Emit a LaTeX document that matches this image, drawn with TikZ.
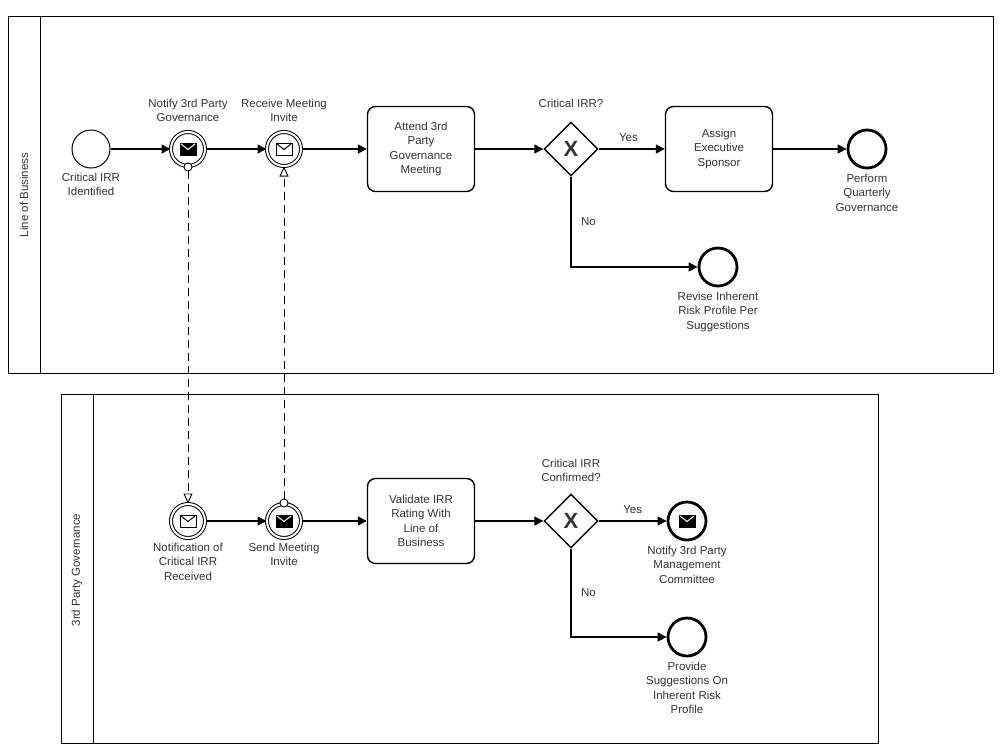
\documentclass[tikz,border=0pt]{standalone}
\usepackage{fontspec}
\setmainfont{Liberation Sans}
\usetikzlibrary{arrows.meta,shapes.geometric,calc}
\tikzset{
    task/.style={draw, line width=1.4pt, rounded corners=8pt, minimum width=107pt, minimum height=85pt, align=center},
    startev/.style={draw, circle, line width=1pt, minimum size=38pt, inner sep=0pt},
    endev/.style={draw, circle, line width=2.8pt, minimum size=38pt, inner sep=0pt},
    midev/.style={draw, circle, double, double distance=2pt, line width=1pt, minimum size=34pt, inner sep=0pt},
    gate/.style={draw, diamond, line width=1.4pt, minimum size=54pt, inner sep=0pt},
    lbl/.style={align=center},
    flow/.style={line width=1.4pt, -{Triangle[length=9pt,width=9pt]}},
    msg/.style={dashed, dash pattern=on 8pt off 5pt, line width=0.9pt}
}
\newcommand{\envelope}[3]{% center, fill, flap
    \draw[line width=1pt, fill=#2] ($#1+(-8,-6)$) rectangle ($#1+(8,6)$);
    \draw[line width=1pt, draw=#3] ($#1+(-7,-5)$) -- ($#1+(0,0.5)$) -- ($#1+(7,-5)$);
}
\begin{document}
\begin{tikzpicture}[x=1pt,y=-1pt,font=\fontsize{11.5}{14.5}\selectfont,text=black!80]
    \useasboundingbox (0,0) rectangle (1000,750);

    % pools
    \draw[line width=1pt] (8,16) rectangle (993,373);
    \draw[line width=1pt] (40,16) -- (40,373);
    \node[rotate=90, lbl] (lob) at (24,195) {Line of Business};
    \draw[line width=1pt] (61,394) rectangle (878,743);
    \draw[line width=1pt] (93,394) -- (93,743);
    \node[rotate=90, lbl] (tpg) at (77,570) {3rd Party Governance};

    % top lane
    \node[startev] (s1) at (91,149) {};
    \node[lbl, below=1pt] (s1l) at (s1.south) {Critical IRR\\Identified};
    \node[midev] (n1) at (188,149) {};
    \envelope{(188,149)}{black}{white}
    \node[lbl, above=6pt] (n1l) at (n1.north) {Notify 3rd Party\\Governance};
    \node[midev] (r1) at (284,149) {};
    \envelope{(284,149)}{white}{black}
    \node[lbl, above=6pt] (r1l) at (r1.north) {Receive Meeting\\Invite};
    \node[task] (t1) at (421,149) {Attend 3rd\\Party\\Governance\\Meeting};
    \node[gate] (g1) at (571,149) {};
    \node[font=\fontsize{22}{22}\selectfont\bfseries] (g1x) at (571,149) {X};
    \node[lbl, above=10pt] (g1l) at (g1.north) {Critical IRR?};
    \node[task] (t2) at (719,149) {Assign\\Executive\\Sponsor};
    \node[endev] (e1) at (867,149) {};
    \node[lbl, below=1pt] (e1l) at (e1.south) {Perform\\Quarterly\\Governance};
    \node[endev] (e2) at (718,267) {};
    \node[lbl, below=1pt] (e2l) at (e2.south) {Revise Inherent\\Risk Profile Per\\Suggestions};

    \draw[flow] (s1) -- (n1);
    \draw[flow] (n1) -- (r1);
    \draw[flow] (r1) -- (t1);
    \draw[flow] (t1) -- (g1);
    \draw[flow] (g1) -- node[above=3pt, pos=0.45] (y1) {Yes} (t2);
    \draw[flow] (t2) -- (e1);
    \draw[flow] (g1.south) |- node[pos=0.25, right=6pt] (no1) {No} (e2);

    % bottom lane
    \node[midev] (c2) at (188,521) {};
    \envelope{(188,521)}{white}{black}
    \node[lbl, below=1pt] (c2l) at (c2.south) {Notification of\\Critical IRR\\Received};
    \node[midev] (m2) at (284,521) {};
    \envelope{(284,521)}{black}{white}
    \node[lbl, below=1pt] (m2l) at (m2.south) {Send Meeting\\Invite};
    \node[task] (t3) at (421,521) {Validate IRR\\Rating With\\Line of\\Business};
    \node[gate] (g2) at (571,521) {};
    \node[font=\fontsize{22}{22}\selectfont\bfseries] (g2x) at (571,521) {X};
    \node[lbl, above=8pt] (g2l) at (g2.north) {Critical IRR\\Confirmed?};
    \node[endev] (e3) at (687,521) {};
    \envelope{(687,521)}{black}{white}
    \node[lbl, below=1pt] (e3l) at (e3.south) {Notify 3rd Party\\Management\\Committee};
    \node[endev] (e4) at (687,637) {};
    \node[lbl, below=1pt] (e4l) at (e4.south) {Provide\\Suggestions On\\Inherent Risk\\Profile};

    \draw[flow] (c2) -- (m2);
    \draw[flow] (m2) -- (t3);
    \draw[flow] (t3) -- (g2);
    \draw[flow] (g2) -- node[above=3pt, pos=0.5] (y2) {Yes} (e3);
    \draw[flow] (g2.south) |- node[pos=0.25, right=6pt] (no2) {No} (e4);

    % message flows
    \draw[msg, {Circle[open,length=9pt,width=9pt,line width=0.9pt,fill=white]}-{Triangle[open,length=10pt,width=9pt,line width=0.9pt]}] ($(n1.south)+(0,-4)$) -- (c2.north);
    \draw[msg, {Circle[open,length=9pt,width=9pt,line width=0.9pt,fill=white]}-{Triangle[open,length=10pt,width=9pt,line width=0.9pt]}] ($(m2.north)+(0,4)$) -- (r1.south);
\end{tikzpicture}
\end{document}
